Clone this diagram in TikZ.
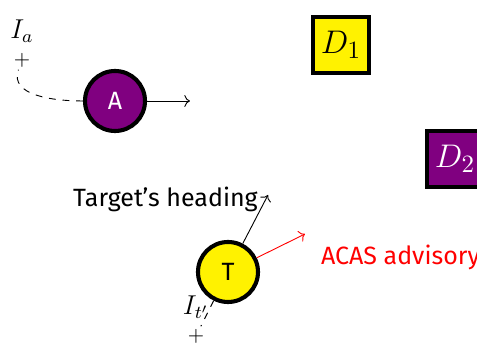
\documentclass[tikz,border=0pt]{standalone}
\usepackage{fontspec}
\setmainfont{Fira Sans}
\usepackage{xcolor}
\usetikzlibrary{positioning, arrows.meta, calc}

\definecolor{ownpurple}{RGB}{128,0,128}

\begin{document}
\begin{tikzpicture}[
  x=0.44pt, y=-0.44pt,
  font=\fontsize{11}{13}\selectfont,
  plane/.style={circle, draw, line width=1.8pt, minimum size=26.4pt, inner sep=0pt},
  zone/.style={rectangle, draw, line width=1.8pt, minimum size=25pt, inner sep=0pt, font=\fontsize{15.5}{18}\selectfont},
  fix/.style={inner sep=1pt, font=\small},
  tag/.style={font=\fontsize{12}{14}\selectfont},
  track/.style={dashed},
  arr/.style={->}
]
\clip (0,0) rectangle (477,345);
% aircraft
\node[plane, fill=ownpurple, text=white] (A) at (115,101) {A};
\node[plane, fill=yellow] (T) at (228,272) {T};
% zones
\node[zone, fill=yellow] (D1) at (341,45) {$D_1$};
\node[zone, fill=ownpurple, text=white] (D2) at (455,159) {$D_2$};
% initial points
\node[fix] (pa) at (22,60) {$+$};
\node[tag, above=0pt of pa] (Ia) {$I_a$};
\node[fix] (pt) at (196,336) {$+$};
\node[tag, above=0pt of pt] (It) {$I_{t'}$};
\draw[track] (A) to[out=180, in=-110] (pa);
\draw[track] (T) -- (pt);
% headings
\coordinate (atip) at (190,101);
\coordinate (ttip) at (268,195);
\coordinate (rtip) at (305,234);
\draw[arr] (A) -- (atip);
\draw[arr] (T) -- (ttip);
\draw[arr, red] (T) -- (rtip);
\node[left=1pt of ttip, yshift=-2pt] (head) {Target’s heading};
\node[anchor=west, red] (acas) at (313,257) {ACAS advisory};
\end{tikzpicture}
\end{document}
